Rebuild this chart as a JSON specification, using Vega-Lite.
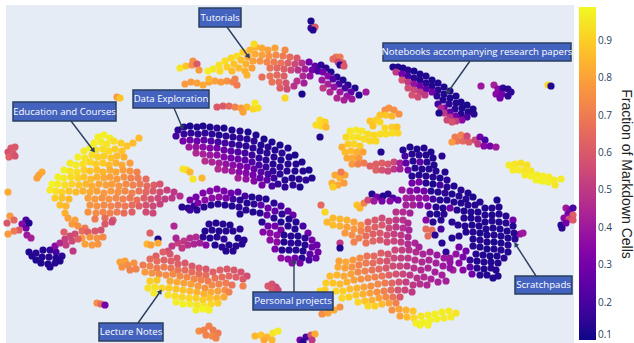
{"$schema":"https://vega.github.io/schema/vega-lite/v6.json","autosize":"none","width":568,"height":338,"padding":{"left":6,"top":5,"right":60,"bottom":0},"background":"white","view":{"fill":"#e5ecf6","stroke":null},
"datasets":{"notes":[
{"t":"Tutorials","a":199,"b":241,"c":8,"d":27,"e":227,"f":27,"g":248,"h":56,"r":145,"mx":220,"my":17.5},
{"t":"Data Exploration","a":133,"b":209,"c":90,"d":108,"e":174,"f":108,"g":182,"h":127,"r":160,"mx":171,"my":99},
{"t":"Education and Courses","a":13,"b":116,"c":102,"d":121,"e":71,"f":121,"g":93,"h":150,"r":143,"mx":64.5,"my":111.5},
{"t":"Notebooks accompanying research papers","a":383,"b":571,"c":43,"d":61,"e":470,"f":61,"g":448,"h":92,"r":215,"mx":477,"my":52},
{"t":"Lecture Notes","a":99,"b":163,"c":323,"d":341,"e":138,"f":323,"g":160,"h":292,"r":35,"mx":131,"my":332},
{"t":"Personal projects","a":253,"b":333,"c":292,"d":310,"e":294,"f":292,"g":294,"h":262,"r":0,"mx":293,"my":301},
{"t":"Scratchpads","a":515,"b":572,"c":276,"d":294,"e":536,"f":276,"g":516,"h":245,"r":327,"mx":543.5,"my":285}
],
"pts":[
{"x":98,"y":137,"m":0.97},{"x":104,"y":135,"m":0.97},{"x":110,"y":138,"m":0.96},{"x":94,"y":143,"m":0.97},{"x":101,"y":142,"m":0.96},{"x":107,"y":144,"m":0.95},{"x":114,"y":141,"m":0.93},{"x":121,"y":143,"m":0.9},{"x":127,"y":146,"m":0.88},{"x":133,"y":143,"m":0.86},{"x":139,"y":138,"m":0.86},
{"x":84,"y":151,"m":0.96},{"x":90,"y":148,"m":0.97},{"x":96,"y":150,"m":0.94},{"x":103,"y":149,"m":0.93},{"x":109,"y":151,"m":0.92},{"x":115,"y":149,"m":0.9},{"x":122,"y":151,"m":0.88},
{"x":78,"y":157,"m":0.97},{"x":85,"y":158,"m":0.95},{"x":92,"y":155,"m":0.93},{"x":98,"y":157,"m":0.91},{"x":104,"y":156,"m":0.9},{"x":111,"y":158,"m":0.88},{"x":117,"y":156,"m":0.86},{"x":124,"y":157,"m":0.84},
{"x":70,"y":163,"m":0.96},{"x":76,"y":165,"m":0.96},{"x":83,"y":164,"m":0.94},{"x":90,"y":162,"m":0.92},{"x":96,"y":164,"m":0.9},{"x":103,"y":163,"m":0.89},{"x":109,"y":165,"m":0.86},{"x":116,"y":163,"m":0.84},{"x":122,"y":165,"m":0.82},{"x":130,"y":163,"m":0.79},
{"x":64,"y":170,"m":0.97},{"x":70,"y":171,"m":0.95},{"x":77,"y":172,"m":0.93},{"x":84,"y":170,"m":0.91},{"x":90,"y":171,"m":0.88},{"x":97,"y":170,"m":0.87},{"x":103,"y":172,"m":0.85},{"x":110,"y":170,"m":0.83},{"x":116,"y":172,"m":0.81},{"x":123,"y":170,"m":0.79},{"x":130,"y":171,"m":0.76},{"x":137,"y":172,"m":0.72},
{"x":58,"y":177,"m":0.97},{"x":64,"y":178,"m":0.96},{"x":71,"y":177,"m":0.93},{"x":78,"y":178,"m":0.91},{"x":84,"y":177,"m":0.88},{"x":91,"y":179,"m":0.86},{"x":97,"y":177,"m":0.84},{"x":104,"y":178,"m":0.82},{"x":110,"y":177,"m":0.8},{"x":117,"y":179,"m":0.78},{"x":124,"y":177,"m":0.76},{"x":131,"y":178,"m":0.72},{"x":138,"y":178,"m":0.7},{"x":146,"y":179,"m":0.66},
{"x":52,"y":184,"m":0.98},{"x":58,"y":184,"m":0.96},{"x":65,"y":185,"m":0.93},{"x":72,"y":184,"m":0.91},{"x":79,"y":185,"m":0.88},{"x":86,"y":184,"m":0.85},{"x":92,"y":186,"m":0.83},{"x":99,"y":184,"m":0.81},{"x":106,"y":185,"m":0.8},{"x":112,"y":184,"m":0.79},{"x":119,"y":186,"m":0.77},{"x":126,"y":184,"m":0.74},{"x":133,"y":185,"m":0.72},{"x":140,"y":184,"m":0.69},{"x":147,"y":186,"m":0.65},{"x":154,"y":185,"m":0.62},{"x":160,"y":184,"m":0.58},
{"x":50,"y":190,"m":0.96},{"x":56,"y":191,"m":0.94},{"x":62,"y":192,"m":0.91},{"x":69,"y":191,"m":0.88},{"x":76,"y":192,"m":0.86},{"x":83,"y":191,"m":0.84},{"x":90,"y":192,"m":0.82},{"x":97,"y":191,"m":0.8},{"x":104,"y":193,"m":0.78},{"x":111,"y":191,"m":0.78},{"x":118,"y":192,"m":0.76},{"x":125,"y":191,"m":0.74},{"x":132,"y":193,"m":0.72},{"x":139,"y":191,"m":0.68},{"x":146,"y":192,"m":0.64},{"x":153,"y":191,"m":0.6},{"x":160,"y":192,"m":0.56},{"x":167,"y":190,"m":0.53},{"x":174,"y":192,"m":0.5},{"x":180,"y":196,"m":0.47},
{"x":55,"y":198,"m":0.9},{"x":62,"y":198,"m":0.88},{"x":69,"y":199,"m":0.85},{"x":88,"y":198,"m":0.8},{"x":95,"y":199,"m":0.78},{"x":102,"y":198,"m":0.76},{"x":109,"y":199,"m":0.76},{"x":116,"y":198,"m":0.74},{"x":123,"y":199,"m":0.72},{"x":130,"y":198,"m":0.69},{"x":137,"y":200,"m":0.67},{"x":144,"y":198,"m":0.62},{"x":151,"y":199,"m":0.58},{"x":158,"y":198,"m":0.55},{"x":165,"y":199,"m":0.52},{"x":172,"y":198,"m":0.5},
{"x":60,"y":205,"m":0.87},{"x":66,"y":206,"m":0.85},{"x":90,"y":205,"m":0.77},{"x":97,"y":206,"m":0.76},{"x":104,"y":205,"m":0.74},{"x":111,"y":206,"m":0.73},{"x":118,"y":205,"m":0.7},{"x":125,"y":206,"m":0.69},{"x":132,"y":205,"m":0.66},{"x":139,"y":206,"m":0.62},{"x":146,"y":205,"m":0.58},{"x":153,"y":206,"m":0.55},{"x":160,"y":204,"m":0.53},
{"x":65,"y":213,"m":0.84},{"x":88,"y":212,"m":0.76},{"x":96,"y":213,"m":0.75},{"x":103,"y":212,"m":0.73},{"x":110,"y":213,"m":0.72},{"x":117,"y":212,"m":0.7},{"x":124,"y":213,"m":0.66},{"x":132,"y":212,"m":0.62},{"x":146,"y":212,"m":0.56},{"x":153,"y":213,"m":0.55},
{"x":68,"y":218,"m":0.8},{"x":75,"y":220,"m":0.8},{"x":95,"y":219,"m":0.7},{"x":105,"y":218,"m":0.66},{"x":113,"y":220,"m":0.62},{"x":72,"y":224,"m":0.78},{"x":78,"y":226,"m":0.76},{"x":85,"y":228,"m":0.7},{"x":105,"y":224,"m":0.6},{"x":112,"y":222,"m":0.56},{"x":82,"y":231,"m":0.66},{"x":88,"y":232,"m":0.62},{"x":95,"y":231,"m":0.6},{"x":101,"y":230,"m":0.58},{"x":82,"y":238,"m":0.78},{"x":90,"y":237,"m":0.77},{"x":97,"y":238,"m":0.76},{"x":103,"y":237,"m":0.74},{"x":85,"y":244,"m":0.8},{"x":92,"y":245,"m":0.78},{"x":98,"y":244,"m":0.77},
{"x":178,"y":130,"m":0.15},{"x":184,"y":127,"m":0.13},{"x":190,"y":126,"m":0.12},{"x":197,"y":127,"m":0.13},{"x":203,"y":126,"m":0.12},{"x":210,"y":127,"m":0.12},{"x":217,"y":128,"m":0.14},{"x":224,"y":128,"m":0.12},{"x":232,"y":130,"m":0.13},{"x":240,"y":131,"m":0.14},{"x":248,"y":132,"m":0.12},{"x":256,"y":135,"m":0.13},{"x":264,"y":139,"m":0.12},{"x":272,"y":142,"m":0.13},{"x":280,"y":145,"m":0.12},{"x":288,"y":148,"m":0.13},{"x":295,"y":155,"m":0.12},{"x":302,"y":162,"m":0.13},{"x":309,"y":170,"m":0.12},{"x":312,"y":178,"m":0.13},
{"x":176,"y":136,"m":0.2},{"x":184,"y":134,"m":0.17},{"x":191,"y":133,"m":0.15},{"x":198,"y":134,"m":0.15},{"x":205,"y":133,"m":0.16},{"x":212,"y":134,"m":0.15},{"x":219,"y":135,"m":0.13},{"x":226,"y":136,"m":0.15},{"x":233,"y":137,"m":0.14},{"x":240,"y":138,"m":0.16},{"x":247,"y":139,"m":0.14},{"x":254,"y":141,"m":0.15},{"x":261,"y":145,"m":0.13},{"x":268,"y":147,"m":0.14},{"x":275,"y":150,"m":0.13},{"x":282,"y":153,"m":0.15},{"x":289,"y":157,"m":0.13},{"x":296,"y":164,"m":0.14},{"x":303,"y":171,"m":0.14},{"x":306,"y":180,"m":0.15},
{"x":183,"y":141,"m":0.3},{"x":190,"y":140,"m":0.28},{"x":197,"y":141,"m":0.27},{"x":204,"y":140,"m":0.25},{"x":211,"y":141,"m":0.22},{"x":218,"y":142,"m":0.2},{"x":225,"y":143,"m":0.2},{"x":232,"y":144,"m":0.17},{"x":239,"y":145,"m":0.16},{"x":246,"y":146,"m":0.15},{"x":253,"y":148,"m":0.15},{"x":260,"y":151,"m":0.14},{"x":267,"y":153,"m":0.15},{"x":274,"y":157,"m":0.14},{"x":281,"y":160,"m":0.13},{"x":288,"y":164,"m":0.14},{"x":295,"y":171,"m":0.13},{"x":299,"y":179,"m":0.14},{"x":300,"y":187,"m":0.12},
{"x":189,"y":147,"m":0.4},{"x":196,"y":147,"m":0.38},{"x":203,"y":147,"m":0.36},{"x":210,"y":148,"m":0.33},{"x":217,"y":148,"m":0.3},{"x":224,"y":150,"m":0.28},{"x":231,"y":151,"m":0.25},{"x":238,"y":152,"m":0.22},{"x":245,"y":153,"m":0.2},{"x":252,"y":155,"m":0.18},{"x":259,"y":158,"m":0.16},{"x":266,"y":160,"m":0.15},{"x":273,"y":164,"m":0.14},{"x":280,"y":167,"m":0.15},{"x":287,"y":171,"m":0.14},{"x":292,"y":178,"m":0.13},{"x":293,"y":185,"m":0.15},
{"x":196,"y":153,"m":0.45},{"x":203,"y":154,"m":0.43},{"x":210,"y":155,"m":0.4},{"x":217,"y":155,"m":0.37},{"x":224,"y":157,"m":0.34},{"x":231,"y":158,"m":0.3},{"x":238,"y":159,"m":0.28},{"x":245,"y":160,"m":0.25},{"x":252,"y":162,"m":0.22},{"x":259,"y":165,"m":0.2},{"x":266,"y":167,"m":0.18},{"x":273,"y":171,"m":0.16},{"x":280,"y":174,"m":0.15},{"x":285,"y":180,"m":0.14},{"x":285,"y":187,"m":0.15},
{"x":205,"y":161,"m":0.47},{"x":212,"y":162,"m":0.44},{"x":219,"y":163,"m":0.42},{"x":226,"y":164,"m":0.38},{"x":233,"y":165,"m":0.35},{"x":240,"y":166,"m":0.32},{"x":247,"y":167,"m":0.3},{"x":254,"y":169,"m":0.27},{"x":261,"y":172,"m":0.24},{"x":268,"y":174,"m":0.2},{"x":274,"y":178,"m":0.18},{"x":278,"y":184,"m":0.16},
{"x":218,"y":169,"m":0.46},{"x":225,"y":170,"m":0.42},{"x":232,"y":171,"m":0.4},{"x":239,"y":172,"m":0.36},{"x":246,"y":173,"m":0.34},{"x":253,"y":175,"m":0.3},{"x":260,"y":178,"m":0.27},{"x":267,"y":180,"m":0.24},{"x":272,"y":186,"m":0.2},{"x":238,"y":178,"m":0.42},{"x":246,"y":179,"m":0.38},{"x":254,"y":181,"m":0.34},{"x":262,"y":185,"m":0.3},
{"x":182,"y":207,"m":0.14},{"x":188,"y":208,"m":0.13},{"x":194,"y":206,"m":0.15},{"x":190,"y":200,"m":0.3},{"x":196,"y":197,"m":0.3},{"x":203,"y":193,"m":0.32},{"x":210,"y":191,"m":0.34},{"x":217,"y":189,"m":0.33},{"x":224,"y":191,"m":0.32},{"x":231,"y":193,"m":0.28},{"x":238,"y":192,"m":0.25},{"x":245,"y":196,"m":0.2},{"x":252,"y":197,"m":0.13},{"x":259,"y":198,"m":0.14},{"x":266,"y":199,"m":0.13},{"x":274,"y":203,"m":0.15},{"x":281,"y":206,"m":0.2},{"x":288,"y":211,"m":0.25},{"x":293,"y":215,"m":0.27},
{"x":198,"y":203,"m":0.32},{"x":205,"y":200,"m":0.35},{"x":212,"y":198,"m":0.36},{"x":219,"y":197,"m":0.36},{"x":226,"y":198,"m":0.32},{"x":233,"y":199,"m":0.2},{"x":240,"y":200,"m":0.14},{"x":247,"y":203,"m":0.13},{"x":254,"y":204,"m":0.15},{"x":261,"y":205,"m":0.25},{"x":268,"y":208,"m":0.28},{"x":275,"y":211,"m":0.25},{"x":282,"y":214,"m":0.15},{"x":289,"y":219,"m":0.13},{"x":296,"y":222,"m":0.14},
{"x":190,"y":210,"m":0.18},{"x":197,"y":210,"m":0.14},{"x":204,"y":207,"m":0.14},{"x":211,"y":205,"m":0.13},{"x":218,"y":204,"m":0.14},{"x":225,"y":205,"m":0.13},{"x":232,"y":206,"m":0.13},{"x":239,"y":207,"m":0.15},{"x":246,"y":210,"m":0.14},{"x":253,"y":212,"m":0.13},{"x":260,"y":213,"m":0.14},{"x":267,"y":215,"m":0.27},{"x":274,"y":218,"m":0.14},{"x":281,"y":222,"m":0.13},{"x":288,"y":226,"m":0.14},{"x":295,"y":229,"m":0.13},{"x":303,"y":226,"m":0.2},{"x":308,"y":233,"m":0.3},
{"x":240,"y":214,"m":0.13},{"x":262,"y":222,"m":0.14},{"x":268,"y":226,"m":0.28},{"x":275,"y":226,"m":0.3},{"x":281,"y":230,"m":0.3},{"x":263,"y":232,"m":0.34},{"x":270,"y":233,"m":0.36},{"x":277,"y":235,"m":0.36},{"x":284,"y":235,"m":0.14},{"x":291,"y":236,"m":0.14},{"x":298,"y":236,"m":0.13},{"x":305,"y":238,"m":0.15},{"x":312,"y":240,"m":0.3},{"x":317,"y":245,"m":0.28},
{"x":270,"y":240,"m":0.36},{"x":277,"y":242,"m":0.35},{"x":284,"y":242,"m":0.13},{"x":291,"y":243,"m":0.15},{"x":298,"y":243,"m":0.14},{"x":305,"y":245,"m":0.14},{"x":312,"y":247,"m":0.28},{"x":318,"y":252,"m":0.3},{"x":275,"y":249,"m":0.32},{"x":282,"y":250,"m":0.14},{"x":289,"y":250,"m":0.13},{"x":296,"y":250,"m":0.14},{"x":303,"y":251,"m":0.13},{"x":310,"y":254,"m":0.25},{"x":316,"y":258,"m":0.27},{"x":281,"y":258,"m":0.37},{"x":288,"y":259,"m":0.34},{"x":295,"y":258,"m":0.3},{"x":302,"y":258,"m":0.14},{"x":309,"y":260,"m":0.2},{"x":292,"y":263,"m":0.36},{"x":300,"y":263,"m":0.3},
{"x":209,"y":224,"m":0.14},{"x":216,"y":223,"m":0.13},{"x":223,"y":224,"m":0.14},{"x":230,"y":225,"m":0.13},{"x":205,"y":231,"m":0.13},{"x":212,"y":230,"m":0.14},{"x":219,"y":231,"m":0.13},{"x":226,"y":231,"m":0.14},{"x":233,"y":231,"m":0.14},{"x":240,"y":229,"m":0.15},{"x":203,"y":237,"m":0.14},{"x":210,"y":238,"m":0.13},{"x":217,"y":237,"m":0.14},{"x":224,"y":239,"m":0.15},{"x":238,"y":238,"m":0.13},{"x":244,"y":240,"m":0.14},{"x":215,"y":245,"m":0.13},{"x":222,"y":247,"m":0.14},{"x":229,"y":245,"m":0.13},{"x":236,"y":246,"m":0.14},{"x":242,"y":244,"m":0.13},{"x":226,"y":251,"m":0.13},{"x":233,"y":251,"m":0.14},
{"x":172,"y":246,"m":0.5},{"x":178,"y":243,"m":0.52},{"x":184,"y":241,"m":0.5},{"x":190,"y":238,"m":0.46},{"x":196,"y":237,"m":0.46},{"x":182,"y":248,"m":0.5},{"x":188,"y":245,"m":0.48},{"x":194,"y":244,"m":0.44},{"x":200,"y":243,"m":0.42},{"x":206,"y":245,"m":0.35},{"x":176,"y":238,"m":0.44},{"x":168,"y":251,"m":0.56},{"x":174,"y":226,"m":0.45},
{"x":147,"y":244,"m":0.85},{"x":151,"y":245,"m":0.8},{"x":158,"y":239,"m":0.13},{"x":158,"y":243,"m":0.82},{"x":150,"y":233,"m":0.62},
{"x":120,"y":262,"m":0.8},{"x":125,"y":261,"m":0.8},{"x":122,"y":267,"m":0.76},{"x":128,"y":265,"m":0.75},{"x":134,"y":263,"m":0.76},{"x":130,"y":270,"m":0.72},{"x":136,"y":269,"m":0.72},
{"x":163,"y":252,"m":0.62},{"x":156,"y":256,"m":0.62},{"x":170,"y":254,"m":0.6},{"x":177,"y":258,"m":0.6},{"x":150,"y":259,"m":0.66},{"x":157,"y":261,"m":0.66},{"x":164,"y":260,"m":0.63},{"x":171,"y":261,"m":0.62},{"x":178,"y":264,"m":0.62},{"x":185,"y":263,"m":0.6},{"x":192,"y":266,"m":0.6},{"x":199,"y":268,"m":0.62},{"x":206,"y":269,"m":0.6},
{"x":143,"y":265,"m":0.7},{"x":150,"y":266,"m":0.72},{"x":157,"y":268,"m":0.7},{"x":164,"y":267,"m":0.7},{"x":171,"y":268,"m":0.68},{"x":178,"y":270,"m":0.68},{"x":185,"y":270,"m":0.66},{"x":192,"y":272,"m":0.66},{"x":199,"y":274,"m":0.66},{"x":206,"y":275,"m":0.66},{"x":213,"y":272,"m":0.62},{"x":220,"y":270,"m":0.62},{"x":227,"y":269,"m":0.6},{"x":234,"y":270,"m":0.6},{"x":241,"y":272,"m":0.58},{"x":247,"y":276,"m":0.56},
{"x":145,"y":272,"m":0.78},{"x":152,"y":273,"m":0.76},{"x":159,"y":274,"m":0.74},{"x":166,"y":275,"m":0.75},{"x":173,"y":274,"m":0.74},{"x":180,"y":276,"m":0.74},{"x":187,"y":277,"m":0.73},{"x":194,"y":279,"m":0.73},{"x":201,"y":280,"m":0.72},{"x":208,"y":281,"m":0.7},{"x":215,"y":278,"m":0.68},{"x":222,"y":277,"m":0.66},{"x":229,"y":276,"m":0.64},{"x":236,"y":277,"m":0.62},{"x":243,"y":279,"m":0.6},
{"x":150,"y":281,"m":0.9},{"x":157,"y":280,"m":0.88},{"x":170,"y":281,"m":0.82},{"x":177,"y":282,"m":0.82},{"x":184,"y":283,"m":0.8},{"x":191,"y":284,"m":0.8},{"x":198,"y":286,"m":0.78},{"x":205,"y":288,"m":0.76},{"x":212,"y":285,"m":0.74},{"x":219,"y":284,"m":0.72},{"x":226,"y":283,"m":0.7},{"x":232,"y":285,"m":0.68},
{"x":148,"y":288,"m":0.94},{"x":155,"y":287,"m":0.94},{"x":162,"y":288,"m":0.92},{"x":169,"y":288,"m":0.9},{"x":176,"y":289,"m":0.88},{"x":183,"y":290,"m":0.88},{"x":190,"y":291,"m":0.86},{"x":197,"y":292,"m":0.84},{"x":204,"y":294,"m":0.84},{"x":211,"y":292,"m":0.82},{"x":218,"y":291,"m":0.8},{"x":225,"y":290,"m":0.75},{"x":229,"y":292,"m":0.72},
{"x":154,"y":293,"m":0.96},{"x":168,"y":295,"m":0.95},{"x":175,"y":296,"m":0.93},{"x":182,"y":297,"m":0.92},{"x":189,"y":298,"m":0.92},{"x":196,"y":298,"m":0.9},{"x":203,"y":300,"m":0.9},{"x":210,"y":298,"m":0.88},{"x":217,"y":298,"m":0.85},{"x":224,"y":297,"m":0.82},
{"x":176,"y":302,"m":0.97},{"x":183,"y":304,"m":0.97},{"x":190,"y":304,"m":0.96},{"x":197,"y":305,"m":0.95},{"x":204,"y":306,"m":0.95},{"x":211,"y":304,"m":0.92},{"x":218,"y":303,"m":0.9},{"x":196,"y":310,"m":0.97},{"x":203,"y":309,"m":0.98},{"x":209,"y":310,"m":0.97},
{"x":32,"y":256,"m":0.13},{"x":36,"y":253,"m":0.14},{"x":43,"y":250,"m":0.13},{"x":50,"y":250,"m":0.16},{"x":56,"y":252,"m":0.2},{"x":36,"y":260,"m":0.12},{"x":42,"y":257,"m":0.13},{"x":49,"y":257,"m":0.14},{"x":56,"y":258,"m":0.13},{"x":62,"y":256,"m":0.15},{"x":41,"y":263,"m":0.13},{"x":48,"y":264,"m":0.12},{"x":55,"y":263,"m":0.14},{"x":60,"y":261,"m":0.13},{"x":50,"y":267,"m":0.13},{"x":29,"y":252,"m":0.13},
{"x":55,"y":246,"m":0.35},{"x":60,"y":243,"m":0.45},{"x":65,"y":239,"m":0.52},{"x":70,"y":236,"m":0.55},{"x":75,"y":234,"m":0.56},{"x":66,"y":245,"m":0.52},{"x":72,"y":241,"m":0.55},{"x":78,"y":239,"m":0.62},{"x":64,"y":232,"m":0.62},{"x":73,"y":251,"m":0.5},
{"x":11,"y":148,"m":0.6},{"x":15,"y":147,"m":0.6},{"x":8,"y":152,"m":0.58},{"x":13,"y":153,"m":0.6},{"x":9,"y":157,"m":0.62},{"x":15,"y":156,"m":0.58},
{"x":26,"y":220,"m":0.2},{"x":22,"y":224,"m":0.35},{"x":26,"y":228,"m":0.3},{"x":29,"y":223,"m":0.13},{"x":27,"y":235,"m":0.4},{"x":31,"y":238,"m":0.42},{"x":19,"y":230,"m":0.6},{"x":14,"y":231,"m":0.7},{"x":8,"y":234,"m":0.78},{"x":10,"y":216,"m":0.78},{"x":14,"y":220,"m":0.65},{"x":7,"y":223,"m":0.6},{"x":8,"y":192,"m":0.82},
{"x":39,"y":175,"m":0.8},{"x":37,"y":178,"m":0.8},{"x":42,"y":172,"m":0.82},
{"x":213,"y":69,"m":0.95},{"x":219,"y":65,"m":0.94},{"x":225,"y":61,"m":0.93},{"x":231,"y":58,"m":0.92},{"x":237,"y":56,"m":0.93},{"x":243,"y":52,"m":0.9},{"x":250,"y":50,"m":0.85},{"x":256,"y":47,"m":0.84},{"x":262,"y":48,"m":0.82},{"x":268,"y":50,"m":0.8},{"x":275,"y":48,"m":0.8},{"x":285,"y":50,"m":0.74},{"x":208,"y":71,"m":0.97},{"x":254,"y":44,"m":0.93},
{"x":220,"y":71,"m":0.93},{"x":227,"y":67,"m":0.9},{"x":234,"y":64,"m":0.88},{"x":241,"y":60,"m":0.87},{"x":248,"y":57,"m":0.82},{"x":255,"y":54,"m":0.82},{"x":262,"y":55,"m":0.8},{"x":269,"y":56,"m":0.76},{"x":276,"y":55,"m":0.74},{"x":283,"y":56,"m":0.7},{"x":290,"y":57,"m":0.66},{"x":297,"y":58,"m":0.6},
{"x":232,"y":71,"m":0.86},{"x":239,"y":68,"m":0.86},{"x":246,"y":64,"m":0.84},{"x":253,"y":61,"m":0.8},{"x":260,"y":61,"m":0.77},{"x":267,"y":62,"m":0.73},{"x":274,"y":62,"m":0.7},{"x":281,"y":63,"m":0.68},{"x":288,"y":63,"m":0.62},{"x":295,"y":64,"m":0.55},{"x":302,"y":63,"m":0.48},{"x":309,"y":62,"m":0.3},{"x":315,"y":66,"m":0.25},
{"x":245,"y":71,"m":0.84},{"x":252,"y":68,"m":0.8},{"x":270,"y":68,"m":0.68},{"x":277,"y":68,"m":0.64},{"x":284,"y":69,"m":0.62},{"x":291,"y":70,"m":0.55},{"x":298,"y":70,"m":0.48},{"x":305,"y":69,"m":0.42},{"x":312,"y":70,"m":0.3},{"x":318,"y":71,"m":0.2},{"x":247,"y":75,"m":0.84},
{"x":262,"y":77,"m":0.66},{"x":270,"y":76,"m":0.68},{"x":277,"y":75,"m":0.65},{"x":284,"y":76,"m":0.62},{"x":303,"y":76,"m":0.45},{"x":310,"y":76,"m":0.38},{"x":272,"y":82,"m":0.68},{"x":279,"y":82,"m":0.65},{"x":286,"y":83,"m":0.58},{"x":304,"y":83,"m":0.42},{"x":280,"y":88,"m":0.62},{"x":287,"y":89,"m":0.56},{"x":294,"y":86,"m":0.48},{"x":297,"y":81,"m":0.48},
{"x":180,"y":68,"m":0.95},{"x":186,"y":66,"m":0.88},{"x":192,"y":65,"m":0.75},{"x":193,"y":61,"m":0.75},{"x":197,"y":64,"m":0.6},{"x":199,"y":70,"m":0.78},
{"x":185,"y":84,"m":0.78},{"x":191,"y":82,"m":0.78},{"x":197,"y":83,"m":0.8},{"x":203,"y":85,"m":0.82},{"x":209,"y":82,"m":0.8},{"x":215,"y":81,"m":0.8},{"x":221,"y":82,"m":0.78},{"x":227,"y":81,"m":0.76},{"x":233,"y":82,"m":0.72},{"x":237,"y":85,"m":0.7},{"x":235,"y":79,"m":0.72},{"x":209,"y":79,"m":0.85},
{"x":217,"y":107,"m":0.6},{"x":223,"y":106,"m":0.6},{"x":229,"y":106,"m":0.65},{"x":235,"y":107,"m":0.72},{"x":241,"y":108,"m":0.78},{"x":247,"y":107,"m":0.85},{"x":253,"y":109,"m":0.92},{"x":258,"y":108,"m":0.93},{"x":255,"y":103,"m":0.96},{"x":243,"y":112,"m":0.8},{"x":117,"y":97,"m":0.78},{"x":120,"y":98,"m":0.88},{"x":285,"y":98,"m":0.92},{"x":302,"y":94,"m":0.12},
{"x":321,"y":65,"m":0.15},{"x":326,"y":68,"m":0.14},{"x":331,"y":72,"m":0.12},{"x":337,"y":77,"m":0.14},{"x":343,"y":80,"m":0.13},{"x":348,"y":85,"m":0.14},{"x":355,"y":88,"m":0.13},{"x":359,"y":95,"m":0.13},{"x":366,"y":92,"m":0.4},
{"x":323,"y":72,"m":0.3},{"x":328,"y":76,"m":0.35},{"x":333,"y":79,"m":0.22},{"x":339,"y":84,"m":0.2},{"x":345,"y":88,"m":0.2},{"x":351,"y":92,"m":0.25},{"x":322,"y":80,"m":0.4},{"x":328,"y":84,"m":0.42},{"x":334,"y":87,"m":0.38},{"x":340,"y":92,"m":0.4},{"x":347,"y":96,"m":0.38},{"x":323,"y":88,"m":0.5},{"x":330,"y":92,"m":0.45},{"x":337,"y":98,"m":0.45},{"x":344,"y":100,"m":0.42},{"x":352,"y":99,"m":0.4},
{"x":336,"y":57,"m":0.68},{"x":340,"y":57,"m":0.7},{"x":333,"y":59,"m":0.65},{"x":338,"y":62,"m":0.55},{"x":343,"y":63,"m":0.6},{"x":340,"y":65,"m":0.14},{"x":344,"y":66,"m":0.6},
{"x":311,"y":28,"m":0.15},{"x":315,"y":27,"m":0.6},{"x":313,"y":30,"m":0.13},{"x":311,"y":21,"m":0.12},
{"x":393,"y":67,"m":0.12},{"x":398,"y":67,"m":0.13},{"x":403,"y":68,"m":0.12},{"x":408,"y":70,"m":0.14},{"x":414,"y":71,"m":0.12},{"x":420,"y":74,"m":0.13},{"x":426,"y":76,"m":0.13},{"x":432,"y":80,"m":0.12},{"x":438,"y":83,"m":0.13},{"x":444,"y":87,"m":0.12},{"x":450,"y":91,"m":0.13},{"x":456,"y":96,"m":0.12},{"x":461,"y":102,"m":0.13},{"x":467,"y":105,"m":0.12},{"x":473,"y":109,"m":0.12},
{"x":396,"y":72,"m":0.5},{"x":402,"y":74,"m":0.3},{"x":408,"y":76,"m":0.2},{"x":414,"y":78,"m":0.14},{"x":420,"y":80,"m":0.13},{"x":426,"y":83,"m":0.14},{"x":432,"y":86,"m":0.13},{"x":438,"y":90,"m":0.14},{"x":444,"y":94,"m":0.13},{"x":450,"y":98,"m":0.12},{"x":456,"y":103,"m":0.13},{"x":462,"y":108,"m":0.12},{"x":468,"y":112,"m":0.13},{"x":474,"y":114,"m":0.14},
{"x":402,"y":80,"m":0.58},{"x":408,"y":82,"m":0.5},{"x":414,"y":84,"m":0.38},{"x":420,"y":86,"m":0.3},{"x":426,"y":89,"m":0.25},{"x":432,"y":92,"m":0.3},{"x":437,"y":96,"m":0.15},{"x":443,"y":100,"m":0.13},{"x":449,"y":104,"m":0.15},{"x":455,"y":109,"m":0.14},{"x":461,"y":114,"m":0.13},{"x":467,"y":117,"m":0.2},
{"x":408,"y":88,"m":0.56},{"x":414,"y":90,"m":0.55},{"x":420,"y":92,"m":0.52},{"x":425,"y":95,"m":0.5},{"x":412,"y":95,"m":0.58},{"x":418,"y":97,"m":0.56},{"x":438,"y":104,"m":0.2},{"x":444,"y":108,"m":0.3},{"x":450,"y":112,"m":0.25},{"x":456,"y":116,"m":0.3},{"x":462,"y":120,"m":0.35},
{"x":441,"y":108,"m":0.45},{"x":444,"y":113,"m":0.5},{"x":450,"y":117,"m":0.48},{"x":456,"y":121,"m":0.52},{"x":439,"y":113,"m":0.12},{"x":447,"y":120,"m":0.55},{"x":452,"y":122,"m":0.58},
{"x":481,"y":86,"m":0.4},{"x":494,"y":85,"m":0.42},{"x":498,"y":89,"m":0.35},{"x":503,"y":88,"m":0.15},{"x":508,"y":89,"m":0.14},{"x":511,"y":92,"m":0.15},{"x":496,"y":94,"m":0.35},{"x":502,"y":94,"m":0.3},{"x":508,"y":96,"m":0.15},{"x":500,"y":98,"m":0.3},{"x":548,"y":85,"m":0.92},{"x":551,"y":86,"m":0.13},
{"x":455,"y":137,"m":0.7},{"x":461,"y":135,"m":0.72},{"x":457,"y":141,"m":0.68},{"x":463,"y":141,"m":0.65},{"x":469,"y":142,"m":0.62},{"x":475,"y":140,"m":0.55},{"x":480,"y":137,"m":0.3},{"x":485,"y":140,"m":0.2},{"x":478,"y":144,"m":0.5},{"x":484,"y":146,"m":0.35},{"x":490,"y":146,"m":0.3},{"x":452,"y":142,"m":0.78},{"x":467,"y":136,"m":0.55},{"x":496,"y":147,"m":0.4},
{"x":385,"y":110,"m":0.75},{"x":389,"y":108,"m":0.76},{"x":394,"y":110,"m":0.75},{"x":399,"y":114,"m":0.76},{"x":380,"y":115,"m":0.88},{"x":386,"y":115,"m":0.88},{"x":392,"y":116,"m":0.85},{"x":370,"y":121,"m":0.88},{"x":376,"y":120,"m":0.9},{"x":373,"y":126,"m":0.88},{"x":380,"y":122,"m":0.92},{"x":385,"y":128,"m":0.92},{"x":392,"y":127,"m":0.9},{"x":397,"y":127,"m":0.88},
{"x":350,"y":131,"m":0.95},{"x":356,"y":130,"m":0.96},{"x":362,"y":131,"m":0.95},{"x":368,"y":134,"m":0.93},{"x":374,"y":135,"m":0.92},{"x":380,"y":134,"m":0.93},{"x":386,"y":134,"m":0.93},{"x":392,"y":133,"m":0.93},{"x":398,"y":133,"m":0.92},
{"x":346,"y":137,"m":0.92},{"x":352,"y":137,"m":0.95},{"x":358,"y":137,"m":0.94},{"x":364,"y":139,"m":0.93},{"x":370,"y":141,"m":0.92},{"x":376,"y":141,"m":0.92},{"x":342,"y":147,"m":0.84},{"x":348,"y":144,"m":0.9},{"x":354,"y":144,"m":0.92},{"x":360,"y":146,"m":0.9},{"x":345,"y":152,"m":0.86},{"x":351,"y":151,"m":0.86},{"x":357,"y":152,"m":0.84},{"x":363,"y":152,"m":0.8},{"x":347,"y":158,"m":0.82},{"x":353,"y":158,"m":0.82},{"x":359,"y":158,"m":0.78},{"x":352,"y":164,"m":0.78},{"x":358,"y":164,"m":0.72},{"x":364,"y":163,"m":0.7},
{"x":370,"y":166,"m":0.62},{"x":376,"y":164,"m":0.62},{"x":382,"y":163,"m":0.62},{"x":388,"y":164,"m":0.6},{"x":394,"y":162,"m":0.55},{"x":400,"y":163,"m":0.42},{"x":376,"y":170,"m":0.62},{"x":382,"y":170,"m":0.58},{"x":388,"y":171,"m":0.55},{"x":394,"y":169,"m":0.5},{"x":400,"y":169,"m":0.42},{"x":381,"y":152,"m":0.13},{"x":442,"y":156,"m":0.14},
{"x":403,"y":150,"m":0.13},{"x":410,"y":147,"m":0.13},{"x":417,"y":149,"m":0.12},{"x":424,"y":148,"m":0.14},{"x":431,"y":152,"m":0.13},{"x":405,"y":156,"m":0.2},{"x":412,"y":154,"m":0.14},{"x":419,"y":155,"m":0.14},{"x":426,"y":155,"m":0.13},{"x":433,"y":158,"m":0.13},{"x":406,"y":163,"m":0.25},{"x":413,"y":161,"m":0.14},{"x":420,"y":162,"m":0.25},{"x":427,"y":162,"m":0.14},{"x":434,"y":165,"m":0.13},{"x":408,"y":170,"m":0.28},{"x":415,"y":168,"m":0.13},{"x":422,"y":169,"m":0.14},{"x":429,"y":169,"m":0.14},{"x":436,"y":171,"m":0.14},{"x":445,"y":172,"m":0.13},
{"x":412,"y":176,"m":0.14},{"x":419,"y":175,"m":0.13},{"x":426,"y":176,"m":0.14},{"x":433,"y":177,"m":0.14},{"x":440,"y":178,"m":0.13},{"x":447,"y":180,"m":0.15},{"x":412,"y":183,"m":0.3},{"x":419,"y":182,"m":0.32},{"x":426,"y":183,"m":0.14},{"x":433,"y":184,"m":0.12},{"x":440,"y":185,"m":0.2},{"x":447,"y":187,"m":0.14},{"x":454,"y":186,"m":0.13},{"x":461,"y":190,"m":0.14},{"x":468,"y":193,"m":0.13},
{"x":402,"y":190,"m":0.4},{"x":410,"y":191,"m":0.36},{"x":417,"y":190,"m":0.3},{"x":424,"y":191,"m":0.3},{"x":431,"y":191,"m":0.14},{"x":438,"y":192,"m":0.13},{"x":445,"y":193,"m":0.15},{"x":452,"y":194,"m":0.13},{"x":459,"y":196,"m":0.14},{"x":466,"y":199,"m":0.14},{"x":473,"y":197,"m":0.12},{"x":480,"y":202,"m":0.14},{"x":497,"y":200,"m":0.12},
{"x":412,"y":198,"m":0.4},{"x":419,"y":198,"m":0.38},{"x":426,"y":198,"m":0.36},{"x":433,"y":199,"m":0.2},{"x":440,"y":200,"m":0.14},{"x":447,"y":200,"m":0.13},{"x":454,"y":202,"m":0.14},{"x":461,"y":203,"m":0.13},{"x":468,"y":205,"m":0.14},{"x":475,"y":205,"m":0.14},{"x":485,"y":208,"m":0.13},{"x":492,"y":208,"m":0.14},{"x":499,"y":207,"m":0.13},
{"x":406,"y":205,"m":0.42},{"x":413,"y":205,"m":0.42},{"x":420,"y":205,"m":0.36},{"x":428,"y":206,"m":0.3},{"x":436,"y":207,"m":0.14},{"x":443,"y":208,"m":0.13},{"x":450,"y":208,"m":0.3},{"x":457,"y":210,"m":0.14},{"x":464,"y":211,"m":0.13},{"x":471,"y":212,"m":0.14},{"x":478,"y":212,"m":0.13},{"x":485,"y":215,"m":0.14},{"x":492,"y":215,"m":0.13},{"x":499,"y":214,"m":0.13},{"x":506,"y":216,"m":0.14},{"x":513,"y":220,"m":0.3},
{"x":396,"y":212,"m":0.48},{"x":403,"y":212,"m":0.46},{"x":410,"y":213,"m":0.42},{"x":430,"y":214,"m":0.14},{"x":437,"y":214,"m":0.13},{"x":444,"y":214,"m":0.14},{"x":464,"y":218,"m":0.14},{"x":471,"y":218,"m":0.13},{"x":478,"y":219,"m":0.14},{"x":485,"y":222,"m":0.13},{"x":492,"y":221,"m":0.14},{"x":499,"y":222,"m":0.13},{"x":506,"y":223,"m":0.14},{"x":513,"y":226,"m":0.13},{"x":520,"y":234,"m":0.38},{"x":523,"y":233,"m":0.4},
{"x":426,"y":220,"m":0.35},{"x":433,"y":222,"m":0.14},{"x":441,"y":220,"m":0.14},{"x":452,"y":222,"m":0.14},{"x":458,"y":225,"m":0.14},{"x":465,"y":226,"m":0.14},{"x":472,"y":225,"m":0.13},{"x":479,"y":226,"m":0.13},{"x":486,"y":229,"m":0.14},{"x":493,"y":228,"m":0.13},{"x":500,"y":229,"m":0.13},{"x":507,"y":231,"m":0.13},{"x":514,"y":233,"m":0.14},
{"x":426,"y":229,"m":0.65},{"x":432,"y":230,"m":0.66},{"x":428,"y":236,"m":0.66},{"x":435,"y":235,"m":0.15},{"x":441,"y":229,"m":0.2},{"x":442,"y":243,"m":0.14},{"x":452,"y":238,"m":0.13},{"x":459,"y":236,"m":0.14},{"x":466,"y":232,"m":0.13},{"x":473,"y":232,"m":0.14},{"x":480,"y":233,"m":0.12},{"x":487,"y":235,"m":0.13},{"x":494,"y":235,"m":0.14},{"x":501,"y":236,"m":0.13},{"x":508,"y":238,"m":0.13},{"x":515,"y":239,"m":0.14},
{"x":473,"y":239,"m":0.13},{"x":480,"y":240,"m":0.14},{"x":487,"y":242,"m":0.13},{"x":494,"y":242,"m":0.12},{"x":501,"y":243,"m":0.13},{"x":508,"y":245,"m":0.14},{"x":473,"y":246,"m":0.14},{"x":480,"y":247,"m":0.13},{"x":487,"y":249,"m":0.12},{"x":494,"y":249,"m":0.13},{"x":501,"y":250,"m":0.14},{"x":508,"y":252,"m":0.13},{"x":476,"y":254,"m":0.14},{"x":483,"y":255,"m":0.13},{"x":490,"y":256,"m":0.12},{"x":497,"y":256,"m":0.13},{"x":504,"y":258,"m":0.14},{"x":470,"y":260,"m":0.16},{"x":477,"y":261,"m":0.13},{"x":484,"y":262,"m":0.14},{"x":491,"y":262,"m":0.13},{"x":498,"y":263,"m":0.13},{"x":470,"y":267,"m":0.25},{"x":477,"y":268,"m":0.14},{"x":484,"y":269,"m":0.13},{"x":491,"y":268,"m":0.14},{"x":496,"y":270,"m":0.13},{"x":480,"y":275,"m":0.14},{"x":487,"y":275,"m":0.13},{"x":493,"y":278,"m":0.13},{"x":498,"y":276,"m":0.13},
{"x":459,"y":247,"m":0.3},{"x":466,"y":251,"m":0.3},{"x":456,"y":254,"m":0.38},{"x":463,"y":257,"m":0.32},{"x":459,"y":263,"m":0.35},{"x":463,"y":270,"m":0.35},{"x":472,"y":274,"m":0.3},{"x":450,"y":258,"m":0.4},{"x":446,"y":252,"m":0.15},{"x":453,"y":270,"m":0.42},
{"x":327,"y":222,"m":0.85},{"x":333,"y":218,"m":0.85},{"x":340,"y":219,"m":0.85},{"x":347,"y":220,"m":0.84},{"x":354,"y":222,"m":0.8},{"x":361,"y":225,"m":0.76},{"x":368,"y":222,"m":0.62},{"x":375,"y":220,"m":0.6},{"x":382,"y":218,"m":0.56},{"x":389,"y":221,"m":0.55},{"x":396,"y":220,"m":0.5},{"x":403,"y":220,"m":0.48},{"x":408,"y":223,"m":0.45},
{"x":333,"y":225,"m":0.86},{"x":340,"y":226,"m":0.84},{"x":347,"y":227,"m":0.8},{"x":354,"y":229,"m":0.78},{"x":361,"y":231,"m":0.72},{"x":368,"y":229,"m":0.66},{"x":375,"y":227,"m":0.62},{"x":382,"y":225,"m":0.6},{"x":389,"y":228,"m":0.55},{"x":396,"y":227,"m":0.5},{"x":403,"y":228,"m":0.47},{"x":409,"y":230,"m":0.44},
{"x":345,"y":233,"m":0.78},{"x":352,"y":235,"m":0.75},{"x":359,"y":238,"m":0.72},{"x":354,"y":242,"m":0.72},{"x":366,"y":236,"m":0.66},{"x":373,"y":234,"m":0.62},{"x":380,"y":233,"m":0.6},{"x":387,"y":235,"m":0.56},{"x":394,"y":234,"m":0.52},{"x":401,"y":235,"m":0.5},{"x":408,"y":237,"m":0.45},{"x":366,"y":243,"m":0.68},{"x":373,"y":241,"m":0.64},{"x":380,"y":240,"m":0.6},{"x":387,"y":242,"m":0.56},{"x":394,"y":241,"m":0.54},{"x":401,"y":242,"m":0.5},{"x":408,"y":244,"m":0.46},{"x":415,"y":243,"m":0.44},{"x":419,"y":247,"m":0.42},{"x":340,"y":243,"m":0.5},
{"x":353,"y":260,"m":0.78},{"x":360,"y":258,"m":0.74},{"x":367,"y":256,"m":0.68},{"x":374,"y":256,"m":0.65},{"x":381,"y":253,"m":0.62},{"x":388,"y":254,"m":0.58},{"x":395,"y":250,"m":0.55},{"x":402,"y":250,"m":0.52},{"x":409,"y":250,"m":0.48},{"x":416,"y":252,"m":0.46},{"x":423,"y":254,"m":0.44},{"x":430,"y":252,"m":0.42},{"x":437,"y":255,"m":0.4},{"x":444,"y":258,"m":0.4},{"x":450,"y":262,"m":0.38},{"x":339,"y":261,"m":0.8},{"x":346,"y":262,"m":0.82},
{"x":338,"y":267,"m":0.82},{"x":345,"y":268,"m":0.8},{"x":352,"y":267,"m":0.76},{"x":359,"y":265,"m":0.72},{"x":366,"y":263,"m":0.7},{"x":373,"y":263,"m":0.66},{"x":380,"y":261,"m":0.62},{"x":387,"y":261,"m":0.58},{"x":394,"y":258,"m":0.55},{"x":401,"y":258,"m":0.52},{"x":408,"y":258,"m":0.5},{"x":415,"y":260,"m":0.48},{"x":422,"y":262,"m":0.45},{"x":429,"y":260,"m":0.44},{"x":436,"y":263,"m":0.42},{"x":443,"y":266,"m":0.4},{"x":450,"y":268,"m":0.38},
{"x":330,"y":276,"m":0.86},{"x":337,"y":275,"m":0.85},{"x":344,"y":276,"m":0.82},{"x":351,"y":274,"m":0.8},{"x":358,"y":272,"m":0.74},{"x":365,"y":271,"m":0.72},{"x":372,"y":270,"m":0.68},{"x":379,"y":269,"m":0.64},{"x":386,"y":268,"m":0.6},{"x":393,"y":266,"m":0.56},{"x":400,"y":266,"m":0.54},{"x":407,"y":266,"m":0.5},{"x":414,"y":268,"m":0.48},{"x":421,"y":270,"m":0.46},{"x":428,"y":268,"m":0.44},{"x":435,"y":272,"m":0.42},{"x":442,"y":275,"m":0.42},{"x":446,"y":281,"m":0.42},
{"x":326,"y":283,"m":0.9},{"x":333,"y":283,"m":0.88},{"x":340,"y":284,"m":0.86},{"x":347,"y":282,"m":0.84},{"x":354,"y":280,"m":0.8},{"x":361,"y":279,"m":0.76},{"x":368,"y":278,"m":0.74},{"x":375,"y":277,"m":0.72},{"x":382,"y":276,"m":0.68},{"x":389,"y":275,"m":0.62},{"x":396,"y":274,"m":0.58},{"x":403,"y":274,"m":0.54},{"x":410,"y":275,"m":0.5},{"x":417,"y":278,"m":0.48},{"x":424,"y":277,"m":0.46},{"x":431,"y":279,"m":0.44},{"x":438,"y":282,"m":0.42},
{"x":336,"y":291,"m":0.92},{"x":343,"y":291,"m":0.9},{"x":350,"y":289,"m":0.86},{"x":357,"y":288,"m":0.84},{"x":364,"y":287,"m":0.8},{"x":371,"y":286,"m":0.76},{"x":378,"y":284,"m":0.74},{"x":385,"y":283,"m":0.7},{"x":392,"y":283,"m":0.64},{"x":399,"y":282,"m":0.58},{"x":406,"y":282,"m":0.52},{"x":413,"y":285,"m":0.5},{"x":420,"y":284,"m":0.48},{"x":427,"y":285,"m":0.45},
{"x":342,"y":298,"m":0.92},{"x":349,"y":297,"m":0.9},{"x":356,"y":295,"m":0.88},{"x":363,"y":294,"m":0.84},{"x":370,"y":293,"m":0.8},{"x":377,"y":292,"m":0.76},{"x":384,"y":291,"m":0.72},{"x":391,"y":290,"m":0.66},{"x":398,"y":290,"m":0.58},{"x":405,"y":290,"m":0.54},{"x":412,"y":292,"m":0.5},
{"x":358,"y":302,"m":0.92},{"x":365,"y":301,"m":0.88},{"x":372,"y":300,"m":0.84},{"x":379,"y":298,"m":0.8},{"x":386,"y":297,"m":0.74},{"x":393,"y":297,"m":0.68},{"x":400,"y":297,"m":0.6},{"x":368,"y":306,"m":0.92},{"x":375,"y":306,"m":0.9},{"x":382,"y":304,"m":0.86},{"x":389,"y":303,"m":0.8},{"x":396,"y":303,"m":0.72},{"x":392,"y":310,"m":0.76},{"x":399,"y":309,"m":0.8},{"x":406,"y":310,"m":0.84},{"x":413,"y":311,"m":0.88},{"x":400,"y":316,"m":0.8},{"x":407,"y":317,"m":0.86},{"x":414,"y":318,"m":0.92},{"x":421,"y":316,"m":0.95},{"x":428,"y":315,"m":0.96},{"x":435,"y":314,"m":0.97},{"x":442,"y":312,"m":0.96},{"x":449,"y":311,"m":0.96},{"x":456,"y":313,"m":0.95},{"x":416,"y":323,"m":0.97},{"x":423,"y":322,"m":0.97},{"x":430,"y":320,"m":0.97},{"x":437,"y":319,"m":0.97},{"x":444,"y":318,"m":0.96},{"x":451,"y":317,"m":0.96},{"x":420,"y":325,"m":0.97},{"x":428,"y":325,"m":0.97},
{"x":320,"y":291,"m":0.92},{"x":325,"y":290,"m":0.9},{"x":334,"y":310,"m":0.82},{"x":322,"y":314,"m":0.75},{"x":328,"y":313,"m":0.8},{"x":340,"y":307,"m":0.76},
{"x":335,"y":175,"m":0.82},{"x":340,"y":178,"m":0.84},{"x":345,"y":175,"m":0.8},{"x":332,"y":183,"m":0.84},{"x":338,"y":185,"m":0.82},{"x":344,"y":183,"m":0.78},{"x":341,"y":172,"m":0.7},{"x":333,"y":187,"m":0.9},
{"x":357,"y":205,"m":0.88},{"x":360,"y":208,"m":0.85},{"x":364,"y":203,"m":0.72},{"x":368,"y":200,"m":0.55},{"x":372,"y":194,"m":0.14},{"x":377,"y":197,"m":0.3},{"x":383,"y":196,"m":0.13},{"x":388,"y":194,"m":0.14},{"x":393,"y":198,"m":0.2},{"x":398,"y":200,"m":0.3},{"x":374,"y":201,"m":0.4},{"x":382,"y":201,"m":0.3},{"x":390,"y":201,"m":0.35},{"x":406,"y":198,"m":0.42},{"x":325,"y":212,"m":0.92},{"x":321,"y":205,"m":0.65},{"x":340,"y":248,"m":0.13},
{"x":509,"y":165,"m":0.96},{"x":515,"y":164,"m":0.95},{"x":521,"y":163,"m":0.94},{"x":527,"y":165,"m":0.94},{"x":513,"y":170,"m":0.96},{"x":519,"y":170,"m":0.96},{"x":525,"y":170,"m":0.95},{"x":531,"y":171,"m":0.95},{"x":525,"y":175,"m":0.96},{"x":531,"y":176,"m":0.97},{"x":537,"y":175,"m":0.96},{"x":543,"y":176,"m":0.97},{"x":549,"y":177,"m":0.96},{"x":536,"y":180,"m":0.97},{"x":542,"y":181,"m":0.97},{"x":548,"y":182,"m":0.97},{"x":554,"y":180,"m":0.96},{"x":561,"y":179,"m":0.96},{"x":555,"y":185,"m":0.95},
{"x":566,"y":208,"m":0.4},{"x":570,"y":210,"m":0.35},{"x":573,"y":208,"m":0.2},{"x":568,"y":214,"m":0.3},{"x":573,"y":215,"m":0.62},{"x":564,"y":218,"m":0.35},{"x":569,"y":219,"m":0.55},{"x":573,"y":220,"m":0.6},{"x":561,"y":225,"m":0.14},{"x":566,"y":223,"m":0.3},{"x":562,"y":228,"m":0.15},
{"x":320,"y":120,"m":0.93},{"x":325,"y":122,"m":0.9},{"x":321,"y":126,"m":0.92},{"x":326,"y":127,"m":0.85},{"x":316,"y":125,"m":0.93},{"x":320,"y":137,"m":0.13},
{"x":183,"y":169,"m":0.95},{"x":187,"y":170,"m":0.93},{"x":190,"y":172,"m":0.85},{"x":202,"y":178,"m":0.85},{"x":193,"y":179,"m":0.95},
{"x":97,"y":303,"m":0.75},{"x":101,"y":304,"m":0.65},{"x":105,"y":305,"m":0.3},
{"x":268,"y":286,"m":0.6},{"x":272,"y":284,"m":0.58},{"x":276,"y":287,"m":0.55},{"x":272,"y":289,"m":0.6},{"x":278,"y":290,"m":0.55},{"x":243,"y":286,"m":0.72},
{"x":199,"y":331,"m":0.75},{"x":204,"y":330,"m":0.72},{"x":209,"y":326,"m":0.72},{"x":213,"y":330,"m":0.7},{"x":206,"y":335,"m":0.72},{"x":212,"y":336,"m":0.74},{"x":218,"y":333,"m":0.7},{"x":216,"y":338,"m":0.72},
{"x":255,"y":336,"m":0.85},{"x":261,"y":335,"m":0.88},{"x":267,"y":337,"m":0.85},{"x":273,"y":333,"m":0.95},{"x":278,"y":331,"m":0.96},{"x":264,"y":340,"m":0.82},{"x":272,"y":340,"m":0.85},{"x":300,"y":340,"m":0.3},{"x":306,"y":337,"m":0.2},{"x":311,"y":335,"m":0.6},{"x":315,"y":334,"m":0.82},{"x":312,"y":340,"m":0.5},{"x":303,"y":342,"m":0.14}
]},
"layer":[
{"data":{"name":"pts"},"mark":{"type":"circle","size":52,"opacity":1},"encoding":{
"x":{"field":"x","type":"quantitative","scale":{"domain":[6,574]},"axis":null},
"y":{"field":"y","type":"quantitative","scale":{"domain":[343,5]},"axis":null},
"color":{"field":"m","type":"quantitative","scale":{"scheme":"plasma","domain":[0.1,0.99]},
"legend":{"orient":"none","legendX":573,"legendY":2,"direction":"vertical","gradientLength":333,"gradientThickness":17,"values":[0.1,0.2,0.3,0.4,0.5,0.6,0.7,0.8,0.9],"title":"Fraction of Markdown Cells","titleOrient":"right","titleAngle":90,"titleAnchor":"middle","titleBaseline":"top","titleFont":"Liberation Sans","titleFontSize":14,"titleFontWeight":"normal","titleColor":"#222222","titlePadding":21,"labelFont":"Open Sans","labelFontSize":10,"labelColor":"#2a3f5f","gradientStrokeWidth":0,"tickCount":9}}}},
{"data":{"name":"notes"},"mark":{"type":"rule","color":"#2a3f5f","strokeWidth":1.4},"encoding":{
"x":{"field":"e","type":"quantitative","scale":{"domain":[6,574]},"axis":null},"x2":{"field":"g"},
"y":{"field":"f","type":"quantitative","scale":{"domain":[343,5]},"axis":null},"y2":{"field":"h"}}},
{"data":{"name":"notes"},"mark":{"type":"point","shape":"triangle","filled":true,"size":30,"color":"#2a3f5f","opacity":1},"encoding":{
"x":{"field":"g","type":"quantitative","scale":{"domain":[6,574]},"axis":null},
"y":{"field":"h","type":"quantitative","scale":{"domain":[343,5]},"axis":null},
"angle":{"field":"r","type":"quantitative","scale":null}}},
{"data":{"name":"notes"},"mark":{"type":"rect","fill":"#4363bf","stroke":"#2a3f5f","strokeWidth":1.5},"encoding":{
"x":{"field":"a","type":"quantitative","scale":{"domain":[6,574]},"axis":null},"x2":{"field":"b"},
"y":{"field":"c","type":"quantitative","scale":{"domain":[343,5]},"axis":null},"y2":{"field":"d"}}},
{"data":{"name":"notes"},"mark":{"type":"text","color":"white","font":"Open Sans","fontSize":9.6,"align":"center","baseline":"middle"},"encoding":{
"x":{"field":"mx","type":"quantitative","scale":{"domain":[6,574]},"axis":null},
"y":{"field":"my","type":"quantitative","scale":{"domain":[343,5]},"axis":null},
"text":{"field":"t"}}}
]}
